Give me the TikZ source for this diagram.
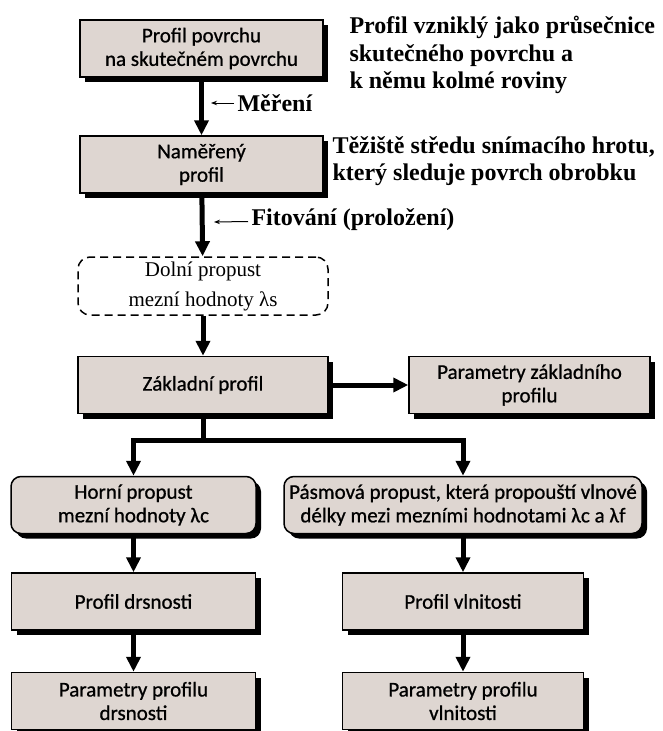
\documentclass[tikz,border=0pt]{standalone}
\usepackage{fontspec}
\setmainfont{Liberation Serif}
\newfontfamily\boxfont[FakeBold=0.8]{Carlito}
\usetikzlibrary{arrows.meta, shadows}
\definecolor{boxfill}{RGB}{222,214,209}

\begin{document}
\begin{tikzpicture}[x=1pt, y=-1pt,
        box/.style={draw, line width=1.5pt, fill=boxfill, minimum width=243pt, minimum height=57pt,
            inner sep=2pt, align=center, font=\boxfont\fontsize{21}{23.5}\selectfont,
            drop shadow={shadow xshift=5pt, shadow yshift=-5pt, opacity=1, fill=black}},
        rbox/.style={box, rounded corners=10pt},
        dbox/.style={draw, line width=1.5pt, dash pattern=on 8pt off 5pt, rounded corners=12pt,
            minimum width=250pt, minimum height=58pt, align=center, font=\fontsize{21}{30}\selectfont},
        note/.style={align=left, font=\bfseries\fontsize{24}{27.5}\selectfont},
        flow/.style={line width=5pt, -{Triangle[width=14pt, length=15pt]}},
        pointer/.style={line width=1pt, -{Stealth[length=6pt]}}]
    \useasboundingbox (0, 0) rectangle (662, 731);

    \node [box] (P) at (201.5, 48.5) {Profil povrchu\\na skutečném povrchu};
    \node [box] (M) at (201.5, 164.5) {Naměřený\\profil};
    \node [dbox] (D) at (203, 286) {Dolní propust\\mezní hodnoty λs};
    \node [box, minimum width=250pt] (Z) at (203, 385) {Základní profil};
    \node [box, minimum width=241pt] (PZ) at (529.5, 385) {Parametry základního\\profilu};
    \node [rbox, minimum width=245pt] (H) at (133.5, 505) {Horní propust\\mezní hodnoty λc};
    \node [rbox, minimum width=358pt, inner sep=0pt] (B) at (463, 505) {Pásmová propust, která propouští vlnové\\délky mezi mezními hodnotami λc a λf};
    \node [box, minimum width=244pt] (R) at (133.5, 601.5) {Profil drsnosti};
    \node [box, minimum width=241pt] (W) at (463, 601.5) {Profil vlnitosti};
    \node [box, minimum width=244pt] (PR) at (133.5, 701) {Parametry profilu\\drsnosti};
    \node [box, minimum width=241pt] (PW) at (463, 701) {Parametry profilu\\vlnitosti};

    % poznamky vpravo
    \node [note, anchor=west] (N1) at (346, 55) {Profil vzniklý jako průsečnice\\skutečného povrchu a\\k němu kolmé roviny};
    \node [note, anchor=west] (N2) at (329, 161) {Těžiště středu snímacího hrotu,\\který sleduje povrch obrobku};
    \node [note, anchor=west] (L1) at (234, 103) {Měření};
    \node [note, anchor=west] (L2) at (248, 220) {Fitování (proložení)};
    \coordinate (l1) at (211, 103);
    \coordinate (l2) at (214, 222);
    \coordinate (S) at (203, 440);

    \draw [flow] (P) -- (M);
    \draw [flow] (M) -- (D);
    \draw [flow] (D) -- (Z);
    \draw [flow] (Z) -- (PZ);
    \draw [line width=5pt] (Z) -- (S);
    \draw [flow] (S) -| (H);
    \draw [flow] (S) -| (B);
    \draw [flow] (H) -- (R);
    \draw [flow] (R) -- (PR);
    \draw [flow] (B) -- (W);
    \draw [flow] (W) -- (PW);
    \draw [pointer] (L1) -- (l1);
    \draw [pointer] (L2) -- (l2);
\end{tikzpicture}
\end{document}
